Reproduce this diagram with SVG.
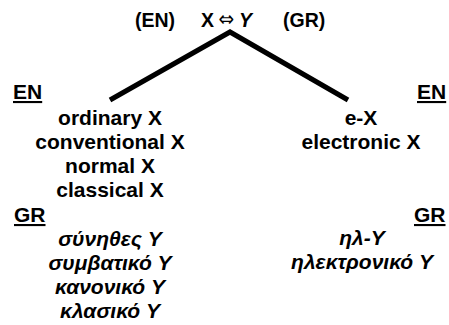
<svg xmlns="http://www.w3.org/2000/svg" width="449" height="325" viewBox="0 0 449 325">
  <style>
    text { font-family: "Liberation Sans", Arial, "DejaVu Sans", sans-serif; font-weight: bold; fill: #000; }
    .h { font-size: 19.5px; }
    .t { font-size: 21px; text-anchor: middle; }
    .g { font-style: italic; }
    .lab { font-size: 21px; text-decoration: underline; }
    .arrow { font-family: "DejaVu Sans", sans-serif; font-weight: normal; font-size: 17px; }
    .branch { stroke: #000; stroke-width: 5; fill: none; stroke-linecap: butt; }
  </style>
  <rect width="449" height="325" fill="#fff"/>
  <g id="header">
    <text class="h" x="135" y="27">(EN)</text>
    <text class="h" x="201" y="27">X</text>
    <text class="arrow" x="218.5" y="26" transform="translate(218.5 26) scale(1.1 1.2) translate(-218.5 -26)">⇔</text>
    <text class="h g" x="239" y="27">Y</text>
    <text class="h" x="283" y="27">(GR)</text>
  </g>
  <g id="connectors">
    <polyline class="branch" points="110,100 230,32 348,100"/>
  </g>
  <g id="left">
    <text class="lab" x="13" y="99">EN</text>
    <text class="t" x="110" y="125">ordinary X</text>
    <text class="t" x="110" y="149">conventional X</text>
    <text class="t" x="110" y="173">normal X</text>
    <text class="t" x="110" y="197">classical X</text>
    <text class="lab" x="14" y="222">GR</text>
    <text class="t g" x="110" y="246">σύνηθες Y</text>
    <text class="t g" x="110" y="270">συμβατικό Y</text>
    <text class="t g" x="110" y="294">κανονικό Y</text>
    <text class="t g" x="110" y="318">κλασικό Y</text>
  </g>
  <g id="right">
    <text class="lab" x="417" y="99">EN</text>
    <text class="t" x="361" y="125">e-X</text>
    <text class="t" x="361" y="149">electronic X</text>
    <text class="lab" x="414" y="222">GR</text>
    <text class="t g" x="362" y="245">ηλ-Y</text>
    <text class="t g" x="362" y="269">ηλεκτρονικό Y</text>
  </g>
</svg>
